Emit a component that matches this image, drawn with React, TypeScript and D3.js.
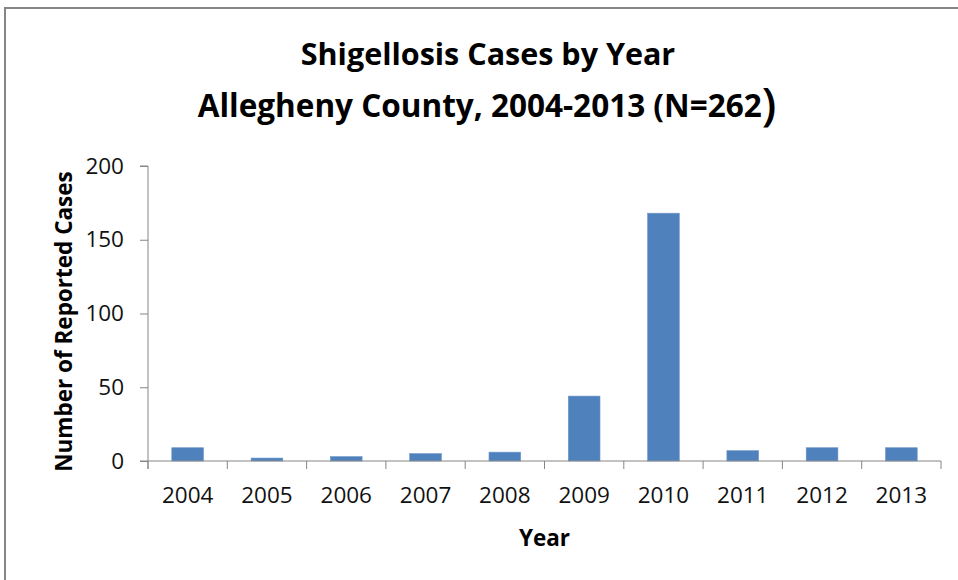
import React, { useEffect, useRef } from 'react';
import * as d3 from 'd3';

// data  ----------------------------------------------------
const years = ['2004', '2005', '2006', '2007', '2008', '2009', '2010', '2011', '2012', '2013'];
const cases = [9, 2, 3, 5, 6, 44, 168, 7, 9, 9];
const yTicks = [0, 50, 100, 150, 200];

const titleLine1 = 'Shigellosis Cases by Year';
const titleLine2 = 'Allegheny County, 2004-2013 (N=262';
const xTitle = 'Year';
const yTitle = 'Number of Reported Cases';

const App = () => {
    const [width, height] = [958, 580];
    const ref = useRef<SVGSVGElement | null>(null);

    useEffect(() => {
        drawChart();
    }, []);

    function drawChart() {
        const svg = d3.select(ref.current);
        svg.selectAll('*').remove();

        const plot = { left: 148, right: 941, top: 166, bottom: 461 };
        const axisColor = '#868686';
        const font = "'Open Sans', 'Noto Sans', sans-serif";

        // chart frame
        svg.append('rect')
            .attr('x', 5)
            .attr('y', 8)
            .attr('width', 1000)
            .attr('height', 1000)
            .attr('fill', 'white')
            .attr('stroke', axisColor)
            .attr('stroke-width', 2);

        // titles
        svg.append('text')
            .attr('x', 488)
            .attr('y', 65)
            .attr('text-anchor', 'middle')
            .style('font-family', font)
            .style('font-weight', 700)
            .style('font-size', '30.5px')
            .text(titleLine1);

        // the closing bracket is bigger in the original title
        const t2 = svg.append('text')
            .attr('x', 487)
            .attr('y', 117)
            .attr('text-anchor', 'middle')
            .style('font-family', font)
            .style('font-weight', 700)
            .style('font-size', '31.5px');
        t2.append('tspan').text(titleLine2);
        t2.append('tspan').attr('dy', 3).style('font-size', '46px').style('font-weight', 600).text(')');

        // scales
        const xScale = d3.scaleBand()
            .domain(years)
            .range([plot.left, plot.right])
            .paddingInner(0.6)
            .paddingOuter(0.3);

        const yScale = d3.scaleLinear()
            .domain([0, 200])
            .range([plot.bottom, plot.top]);

        // bars
        svg.append('g')
            .selectAll('rect')
            .data(cases)
            .join('rect')
            .attr('x', (d, i) => xScale(years[i]))
            .attr('y', (d) => yScale(d))
            .attr('width', xScale.bandwidth())
            .attr('height', (d) => yScale(0) - yScale(d))
            .attr('fill', '#4F81BD')
            .attr('stroke', '#6f97c8')
            .attr('stroke-width', 0.6);

        // y axis
        const yAxis = svg.append('g')
            .attr('transform', `translate(${plot.left}, 0)`)
            .call(d3.axisLeft(yScale).tickValues(yTicks).tickSize(8).tickPadding(16));
        yAxis.select('.domain')
            .attr('d', `M-8,${plot.top}H0V${plot.bottom + 8}`);

        // x axis, ticks between categories
        const step = xScale.step();
        const boundaries = d3.range(years.length + 1).map((i) => plot.left + i * step);
        const xAxis = svg.append('g')
            .attr('transform', `translate(0, ${plot.bottom})`);
        xAxis.append('line')
            .attr('x1', plot.left - 8)
            .attr('x2', plot.right)
            .attr('stroke', axisColor);
        xAxis.selectAll('.tick')
            .data(boundaries)
            .join('line')
            .attr('x1', (d) => d)
            .attr('x2', (d) => d)
            .attr('y1', 0)
            .attr('y2', 8)
            .attr('stroke', axisColor);
        xAxis.selectAll('.label')
            .data(years)
            .join('text')
            .attr('x', (d) => xScale(d) + xScale.bandwidth() / 2)
            .attr('y', 42)
            .attr('text-anchor', 'middle')
            .style('font-family', font)
            .style('font-size', '22.5px')
            .attr('fill', '#111')
            .text((d) => d);

        yAxis.selectAll('line, path').attr('stroke', axisColor);
        yAxis.selectAll('text')
            .style('font-family', font)
            .style('font-size', '22.5px')
            .attr('fill', '#111');

        // axis titles
        svg.append('text')
            .attr('x', (plot.left + plot.right) / 2)
            .attr('y', 546)
            .attr('text-anchor', 'middle')
            .style('font-family', font)
            .style('font-weight', 700)
            .style('font-size', '22.5px')
            .text(xTitle);

        svg.append('text')
            .attr('transform', `translate(72, ${(plot.top + plot.bottom) / 2 + 8}) rotate(-90)`)
            .attr('text-anchor', 'middle')
            .style('font-family', font)
            .style('font-weight', 700)
            .style('font-size', '22.5px')
            .text(yTitle);
    }

    return (
        <div style={{ position: 'fixed', left: 0, top: 0, background: 'white' }}>
            <svg ref={ref} width={width} height={height}></svg>
        </div>
    );
};

export default App;
